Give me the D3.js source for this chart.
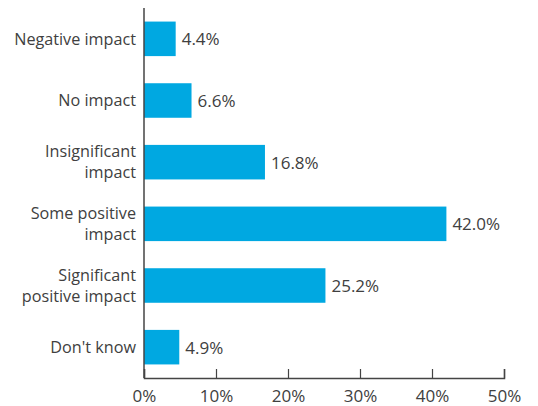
<!DOCTYPE html>
<html>
<head>
<meta charset="utf-8">
<script src="https://cdn.jsdelivr.net/npm/d3@7"></script>
<style>
  html, body { margin: 0; padding: 0; background: #fff; }
  svg text { font-family: "Open Sans", "DejaVu Sans", sans-serif; fill: #404040; }
</style>
</head>
<body>
<svg id="chart" width="538" height="406"></svg>
<script>
// Survey responses: perceived impact
const categories = [
  ["Negative impact"],
  ["No impact"],
  ["Insignificant", "impact"],
  ["Some positive", "impact"],
  ["Significant", "positive impact"],
  ["Don't know"]
];
const values = [4.4, 6.6, 16.8, 42.0, 25.2, 4.9];
const tickValues = [0, 10, 20, 30, 40, 50];

const data = categories.map((c, i) => ({ key: c.join(" "), lines: c, value: values[i] }));

const svg = d3.select("#chart");
const plotLeft = 144, plotRight = 504, plotTop = 8, plotBottom = 378;

const x = d3.scaleLinear().domain([0, 50]).range([plotLeft, plotRight]);
const y = d3.scaleBand()
  .domain(data.map(d => d.key))
  .range([plotTop, plotBottom])
  .paddingInner(0.44)
  .paddingOuter(0.22);

// bars
svg.append("g")
  .selectAll("rect")
  .data(data)
  .join("rect")
  .attr("x", x(0))
  .attr("y", d => y(d.key))
  .attr("width", d => x(d.value) - x(0))
  .attr("height", y.bandwidth())
  .attr("fill", "#00a8e1");

// value labels
svg.append("g")
  .selectAll("text")
  .data(data)
  .join("text")
  .attr("x", d => x(d.value) + 6)
  .attr("y", d => y(d.key) + y.bandwidth() / 2)
  .attr("dy", "0.38em")
  .attr("font-size", 17)
  .text(d => d.value.toFixed(1) + "%");

// category labels
const catG = svg.append("g");
data.forEach(d => {
  const cy = y(d.key) + y.bandwidth() / 2;
  const lh = 21;
  const t = catG.append("text")
    .attr("text-anchor", "end")
    .attr("font-size", 16.2);
  d.lines.forEach((ln, j) => {
    t.append("tspan")
      .attr("x", plotLeft - 8)
      .attr("y", cy + (j - (d.lines.length - 1) / 2) * lh)
      .attr("dy", "0.35em")
      .text(ln);
  });
});

// bottom axis with upward ticks
const xAxis = d3.axisBottom(x)
  .tickValues(tickValues)
  .tickSize(-9)
  .tickSizeOuter(-9)
  .tickPadding(12)
  .tickFormat(d => d + "%");

const ax = svg.append("g")
  .attr("transform", `translate(0,${plotBottom})`)
  .call(xAxis);
ax.select(".domain").attr("stroke", "#444").attr("stroke-width", 1.5);
ax.selectAll(".tick line").attr("stroke", "#444").attr("stroke-width", 1.2);
ax.selectAll(".tick text")
  .attr("font-size", 17)
  .attr("font-family", "\"Open Sans\", sans-serif")
  .attr("fill", "#404040");

// vertical category axis line
svg.append("line")
  .attr("x1", x(0)).attr("x2", x(0))
  .attr("y1", plotTop).attr("y2", plotBottom)
  .attr("stroke", "#444")
  .attr("stroke-width", 1.5);
</script>
</body>
</html>
